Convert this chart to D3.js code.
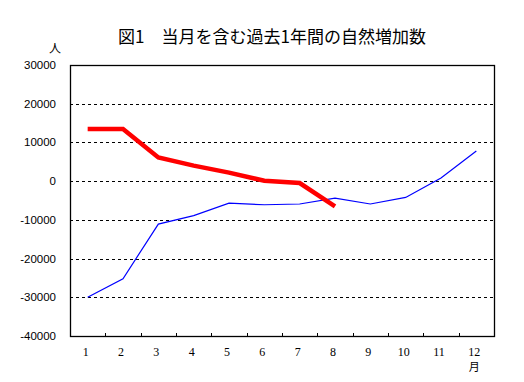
<!DOCTYPE html>
<html>
<head>
<meta charset="utf-8">
<script src="https://cdn.jsdelivr.net/npm/d3@7"></script>
<style>
  body { margin: 0; background: #fff; }
  text { font-family: "Liberation Sans", "Noto Sans CJK JP", sans-serif; }
</style>
</head>
<body>
<div id="chart"></div>
<script>
var svgWidth = 524;
var svgHeight = 382;

var margin = {
  top: 65,
  right: 30,
  bottom: 46,
  left: 70
};

var width = svgWidth - margin.left - margin.right;
var height = svgHeight - margin.top - margin.bottom;

// data
var months = ["1", "2", "3", "4", "5", "6", "7", "8", "9", "10", "11", "12"];
var pastYear = [-30000, -25200, -11100, -8900, -5700, -6100, -5900, -4400, -5900, -4200, 800, 7800];
var currentYear = [13500, 13500, 6100, 4000, 2200, 100, -500, -6500];
var yTicks = [30000, 20000, 10000, 0, -10000, -20000, -30000, -40000];

var svg = d3
  .select("#chart")
  .append("svg")
  .attr("width", svgWidth)
  .attr("height", svgHeight);

var chartGroup = svg.append("g")
  .attr("transform", `translate(${margin.left}, ${margin.top})`);

var xScale = d3.scaleBand()
  .domain(months)
  .range([0, width]);

var yScale = d3.scaleLinear()
  .domain([-40000, 30000])
  .range([height, 0]);

// dashed grid lines
chartGroup.selectAll(".grid")
  .data(yTicks.filter(d => d > -40000 && d < 30000))
  .enter()
  .append("line")
  .attr("class", "grid")
  .attr("x1", 0)
  .attr("x2", width)
  .attr("y1", d => Math.round(yScale(d)) + 0.5)
  .attr("y2", d => Math.round(yScale(d)) + 0.5)
  .attr("stroke", "black")
  .attr("stroke-width", 1)
  .attr("stroke-dasharray", "3,3");

// x ticks inside the frame at band edges
chartGroup.selectAll(".xtick")
  .data(months.slice(1))
  .enter()
  .append("line")
  .attr("class", "xtick")
  .attr("x1", d => Math.round(xScale(d)) + 0.5)
  .attr("x2", d => Math.round(xScale(d)) + 0.5)
  .attr("y1", height)
  .attr("y2", height - 3)
  .attr("stroke", "black");

// frame
chartGroup.append("rect")
  .attr("x", 0.5)
  .attr("y", 0.5)
  .attr("width", width)
  .attr("height", height)
  .attr("fill", "none")
  .attr("stroke", "black")
  .attr("stroke-width", 1.3);

// y labels
chartGroup.selectAll(".ylabel")
  .data(yTicks)
  .enter()
  .append("text")
  .attr("class", "ylabel")
  .attr("x", -14)
  .attr("y", d => yScale(d) + 4)
  .attr("text-anchor", "end")
  .style("font-size", "11.5px")
  .text(d => d);

// x labels
chartGroup.selectAll(".xlabel")
  .data(months)
  .enter()
  .append("text")
  .attr("class", "xlabel")
  .attr("x", d => xScale(d) + xScale.bandwidth() / 2 - 2)
  .attr("y", height + 20)
  .attr("text-anchor", "middle")
  .style("font-family", "'Liberation Serif', serif")
  .style("font-size", "12px")
  .text(d => d);

chartGroup.append("text")
  .attr("x", xScale("12") + xScale.bandwidth() / 2 - 2)
  .attr("y", height + 35)
  .attr("text-anchor", "middle")
  .style("font-family", "'Noto Sans CJK JP', sans-serif")
  .style("font-size", "11px")
  .text("月");

var line = d3.line()
  .x((d, i) => xScale(months[i]) + xScale.bandwidth() / 2)
  .y(d => yScale(d));

chartGroup.append("path")
  .datum(pastYear)
  .attr("d", line)
  .attr("fill", "none")
  .attr("stroke", "#0000ff")
  .attr("stroke-width", 1.2);

chartGroup.append("path")
  .datum(currentYear)
  .attr("d", line)
  .attr("fill", "none")
  .attr("stroke", "#ff0000")
  .attr("stroke-width", 4.5);

// title and unit
svg.append("text")
  .attr("x", 272)
  .attr("y", 43)
  .attr("text-anchor", "middle")
  .style("font-family", "'Noto Sans CJK JP', sans-serif")
  .style("font-size", "17px")
  .text("図1　当月を含む過去1年間の自然増加数");

svg.append("text")
  .attr("x", 55)
  .attr("y", 53)
  .attr("text-anchor", "middle")
  .style("font-family", "'Noto Sans CJK JP', sans-serif")
  .style("font-size", "12px")
  .text("人");
</script>
</body>
</html>
